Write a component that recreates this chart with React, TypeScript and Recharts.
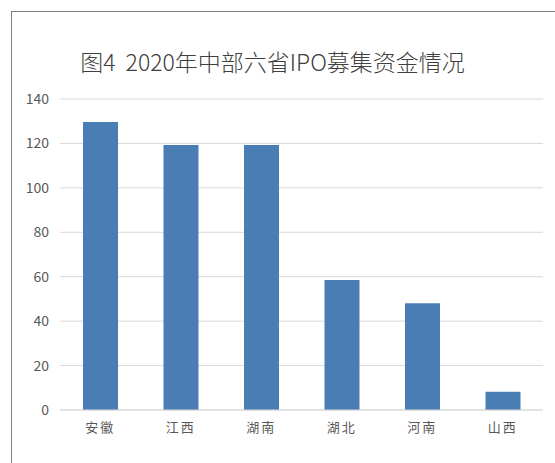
import { BarChart, Bar, XAxis, YAxis, CartesianGrid } from 'recharts';

const provinces = ['安徽', '江西', '湖南', '湖北', '河南', '山西'];
const ipoFunds = [129.6, 119.3, 119.3, 58.5, 48.0, 8.2];
const yTicks = [0, 20, 40, 60, 80, 100, 120, 140];
const title = '图4  2020年中部六省IPO募集资金情况';

const data = provinces.map((name, i) => ({ name, value: ipoFunds[i] }));

const font = '"Noto Sans CJK SC", "Noto Sans", sans-serif';

export default function App() {
  return (
    <div
      style={{
        position: 'absolute',
        top: 0,
        left: 0,
        width: 555,
        height: 463,
        background: '#fff',
        overflow: 'hidden',
        fontFamily: font,
      }}
    >
      {/* frame: only top and left edges are visible in the crop */}
      <div
        style={{
          position: 'absolute',
          left: 11,
          top: 11,
          width: 600,
          height: 500,
          borderTop: '1px solid #808080',
          borderLeft: '1px solid #808080',
        }}
      />
      <div
        style={{
          position: 'absolute',
          top: 46,
          left: 0,
          width: 545,
          textAlign: 'center',
          fontSize: 23,
          fontWeight: 300,
          color: '#404040',
          whiteSpace: 'pre',
          lineHeight: '30px',
        }}
      >
        {title}
      </div>
      <div style={{ position: 'absolute', top: 0, left: 0 }}>
        <BarChart
          width={555}
          height={463}
          data={data}
          margin={{ top: 99, right: 12, bottom: 23, left: 0 }}
        >
          <CartesianGrid vertical={false} stroke="#d9d9d9" />
          <XAxis
            dataKey="name"
            height={30}
            axisLine={{ stroke: '#d9d9d9' }}
            tickLine={false}
            tickMargin={7}
            tick={{ fill: '#595959', fontSize: 13, fontFamily: font, letterSpacing: 2 }}
          />
          <YAxis
            width={60}
            domain={[0, 140]}
            ticks={yTicks}
            axisLine={false}
            tickLine={false}
            tickMargin={5}
            tick={{ fill: '#595959', fontSize: 14, fontFamily: font }}
          />
          <Bar dataKey="value" fill="#4a7db3" barSize={35} isAnimationActive={false} />
        </BarChart>
      </div>
    </div>
  );
}
